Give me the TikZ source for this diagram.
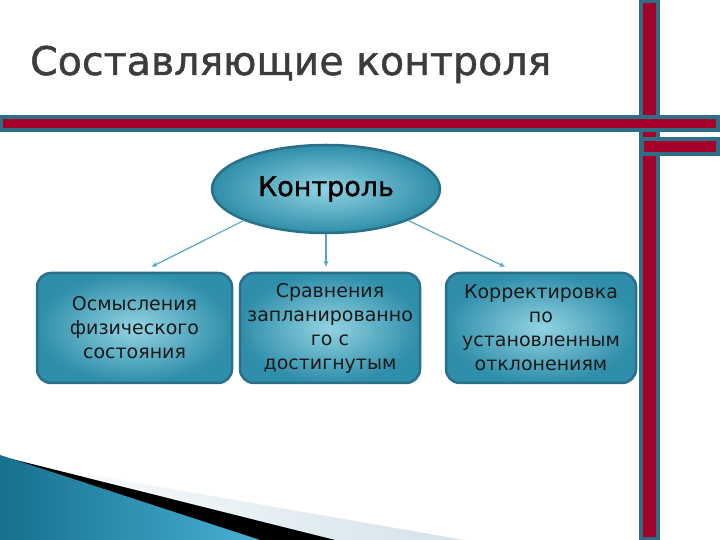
\documentclass[tikz,border=0pt]{standalone}
\usepackage{fontspec}
\setmainfont{DejaVu Sans}
\newfontfamily\headfont[FakeBold=1.2]{DejaVu Sans}
\usetikzlibrary{shapes.geometric,arrows.meta}

\definecolor{barteal}{HTML}{2E6E86}
\definecolor{barred}{HTML}{A4002A}
\definecolor{boxedge}{HTML}{2A7088}
\definecolor{boxin}{HTML}{92D3E2}
\definecolor{boxout}{HTML}{2F8EA9}
\definecolor{arrowblue}{HTML}{5AA6C6}
\definecolor{titlegray}{HTML}{3C3C3C}
\definecolor{wedgedark}{HTML}{16708E}
\definecolor{wedgelight}{HTML}{48B0D4}
\definecolor{bandgray}{HTML}{D3E3EA}

\begin{document}
\begin{tikzpicture}[x=1pt, y=1pt,
    blockbox/.style={draw=boxedge, line width=2.5pt, rounded corners=14pt,
      inner color=boxin, outer color=boxout, minimum height=110pt,
      align=center, font=\fontsize{19}{24}\selectfont, text=black!90},
    link/.style={-{Stealth[length=6pt,width=5pt]}, arrowblue, line width=1.2pt}]
        % Page
        \fill[white] (0,0) rectangle (720,540);
        \useasboundingbox (0,0) rectangle (720,540);

        % Bottom left wedge
        \shade[left color=white, right color=bandgray] (0,81) -- (464,0) -- (0,0) -- cycle;
        \fill[black] (0,84) -- (335,0) -- (0,0) -- cycle;
        \shade[left color=wedgedark, right color=wedgelight] (0,85) -- (260,0) -- (0,0) -- cycle;

        % Bars
        \fill[barteal] (639,0) rectangle (660,540);
        \fill[barred] (643,3) rectangle (656,537);
        \fill[barteal] (0,408) rectangle (720,425);
        \fill[barred] (3,412) rectangle (716,421);
        \fill[barteal] (640,384) rectangle (720,403);
        \fill[barred] (644,388) rectangle (716,399);

        % Title
        \node[anchor=base west, inner sep=0pt, font=\headfont\fontsize{39.5}{48}\selectfont, text=titlegray] (title) at (30,465) {Составляющие контроля};

        % Top node
        \node[ellipse, draw=boxedge, line width=2.5pt, inner color=boxin, outer color=boxout,
          minimum width=228pt, minimum height=88pt, font=\headfont\fontsize{27}{32}\selectfont] (ctrl) at (326,351) {Контроль};

        % Parts
        \node[blockbox, minimum width=195pt] (osm) at (134.5,212) {Осмысления\\физического\\состояния};
        \node[blockbox, minimum width=180pt] (srav) at (330,212) {Сравнения\\запланированно\\го с\\достигнутым};
        \node[blockbox, minimum width=190pt] (korr) at (541,212) {Корректировка\\по\\установленным\\отклонениям};

        % Links
        \draw[link] (ctrl.201) -- ([xshift=17pt,yshift=5pt]osm.north);
        \draw[link] (ctrl.south) -- ([xshift=-4pt,yshift=5pt]srav.north);
        \draw[link] (ctrl.339) -- ([xshift=-36pt,yshift=5pt]korr.north);
      \end{tikzpicture}
\end{document}
